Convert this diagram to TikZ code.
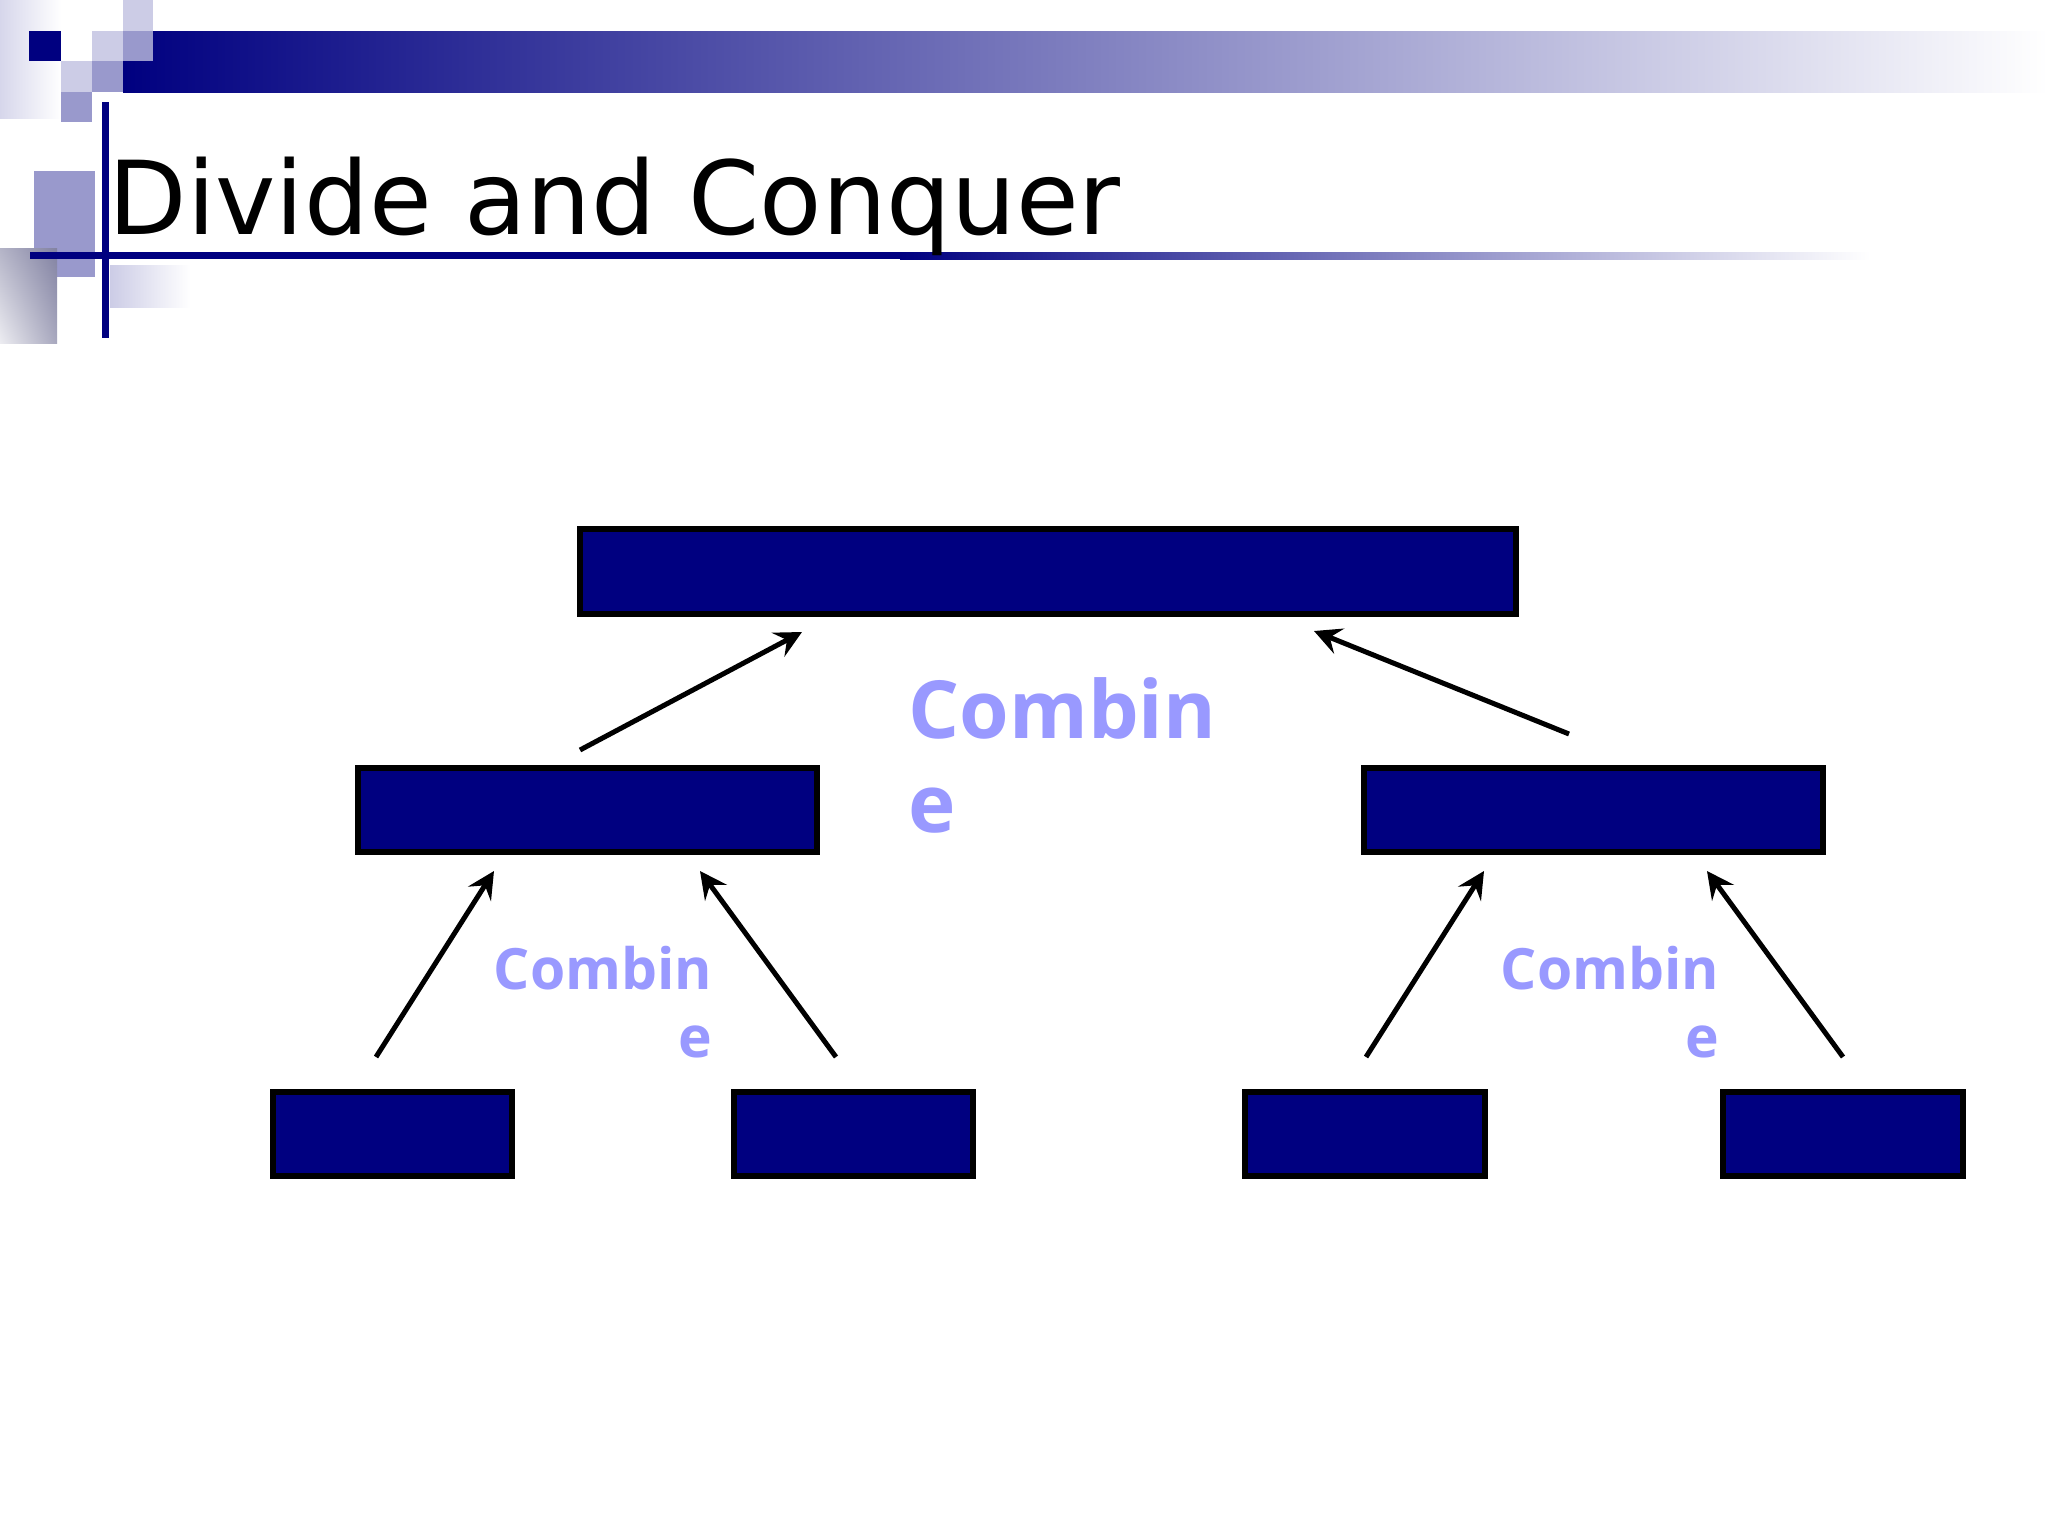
\documentclass[tikz,border=0pt]{standalone}
\usepackage{fontspec}
\setmainfont{DejaVu Sans}
\newfontfamily\combfont{Open Sans}
\usetikzlibrary{arrows.meta,shadings}
\definecolor{navy}{HTML}{000080}
\definecolor{medlav}{HTML}{9999CC}
\definecolor{ltlav}{HTML}{CCCCE6}
\definecolor{combc}{HTML}{9999FF}
\definecolor{grayblue}{HTML}{8282A2}
\tikzset{
  box/.style={draw=black, fill=navy, line width=0.06cm, inner sep=0pt},
  arr/.style={draw=black, line width=0.05cm, -{Stealth[length=0.27cm, width=0.27cm, inset=0.1cm]}},
  bigcomb/.style={text=combc, inner sep=0pt, align=left, font=\combfont\bfseries\fontsize{22.8}{26.5}\selectfont},
  smallcomb/.style={text=combc, inner sep=0pt, align=right, font=\combfont\bfseries\fontsize{16.2}{19.3}\selectfont},
}
\begin{document}
\begin{tikzpicture}[x=0.01cm, y=-0.01cm]
\useasboundingbox (0,0) rectangle (2048,1536);
\fill[white] (0,0) rectangle (2048,1536);
% ---- header decoration ----
\shade[left color=ltlav!80, right color=white] (0,0) rectangle (61,118);
\shade[left color=navy, right color=white] (123,31) rectangle (2048,92);
\fill[navy] (29,31) rectangle (61,61);
\fill[ltlav] (123,0) rectangle (153,31);
\fill[ltlav] (92,31) rectangle (123,61);
\fill[medlav] (123,31) rectangle (153,61);
\fill[ltlav] (61,61) rectangle (92,92);
\fill[medlav] (92,61) rectangle (123,92);
\fill[medlav] (61,92) rectangle (92,122);
% ---- title decoration ----
\fill[medlav] (34,171) rectangle (95,277);
\shade[lower left=white!85!grayblue, upper right=grayblue, lower right=grayblue!70!white, upper left=grayblue!60!white] (0,248) rectangle (57,343);
\shade[left color=ltlav, right color=white] (110,265) rectangle (190,307);
\fill[navy] (30,252) rectangle (900,259);
\shade[left color=navy, right color=white] (900,252) rectangle (1870,259);
\fill[navy] (102,102) rectangle (109,338);
% ---- title ----
\node[anchor=base west, inner sep=0pt, font=\fontsize{29}{34}\selectfont] (title) at (108,234) {Divide and Conquer};
% ---- boxes ----
\node[box, minimum width=9.36cm, minimum height=0.85cm] (top) at (1048,571.5) {};
\node[box, minimum width=4.59cm, minimum height=0.84cm] (ml) at (587.5,810) {};
\node[box, minimum width=4.59cm, minimum height=0.84cm] (mr) at (1593.5,810) {};
\node[box, minimum width=2.39cm, minimum height=0.84cm] (b1) at (392.5,1134) {};
\node[box, minimum width=2.39cm, minimum height=0.84cm] (b2) at (853.5,1134) {};
\node[box, minimum width=2.39cm, minimum height=0.84cm] (b3) at (1365,1134) {};
\node[box, minimum width=2.39cm, minimum height=0.84cm] (b4) at (1843,1134) {};
% ---- labels ----
\node[bigcomb, anchor=base west] (c0) at (908,832) {Combin\\e};
\node[smallcomb, anchor=base east] (c1) at (713,1057) {Combin\\e};
\node[smallcomb, anchor=base east] (c2) at (1720,1057) {Combin\\e};
% ---- arrows ----
\coordinate (s1) at (580,750);  \coordinate (t1) at (802,632);
\coordinate (s2) at (1569,734); \coordinate (t2) at (1314,631);
\coordinate (s3) at (376,1057); \coordinate (t3) at (494,871);
\coordinate (s4) at (836,1057); \coordinate (t4) at (700,871);
\coordinate (s5) at (1366,1057); \coordinate (t5) at (1484,871);
\coordinate (s6) at (1843,1057); \coordinate (t6) at (1707,871);
\draw[arr] (s1) -- (t1);
\draw[arr] (s2) -- (t2);
\draw[arr] (s3) -- (t3);
\draw[arr] (s4) -- (t4);
\draw[arr] (s5) -- (t5);
\draw[arr] (s6) -- (t6);
\end{tikzpicture}
\end{document}
